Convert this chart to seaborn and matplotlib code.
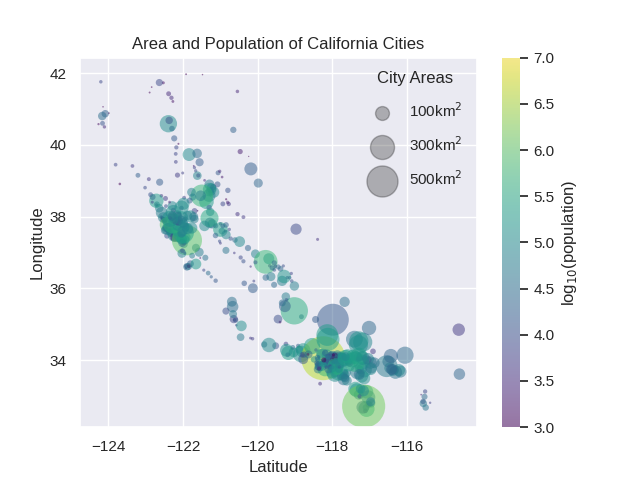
import numpy as np
import pandas as pd
import matplotlib
matplotlib.use("Agg")
import matplotlib.pyplot as plt
from matplotlib.colors import Normalize
from matplotlib.cm import ScalarMappable
import seaborn as sns

# ---- data (grouped by county, same order in every list) ----
latitude = [
    41.756,  # Del Norte
    40.867, 40.883, 40.802, 40.576, 40.598, 40.499, 41.059,  # Humboldt
    41.967, 41.208, 41.457, 41.608, 41.728, 41.310, 41.956, 41.423, 41.735,  # Siskiyou
    41.487, 40.416,  # Modoc, Lassen
    40.452, 40.587, 40.680,  # Shasta
    39.928, 40.179, 40.027,  # Tehama
    39.747, 39.524,  # Glenn
    39.413, 39.728, 39.364, 39.514, 39.760,  # Butte
    39.811, 39.676,  # Plumas, Sierra
    39.219, 39.262, 39.328,  # Nevada
    39.446, 38.909, 39.150, 39.410,  # Mendocino
    38.958, 39.043,  # Lake
    39.214, 39.155,  # Colusa
    39.276, 39.140, 39.146, 39.010,  # Sutter, Yuba
    38.897, 39.101, 38.892, 38.821, 38.791, 38.752,  # Placer
    38.730, 38.933,  # El Dorado
    38.707, 38.409, 38.678, 38.255, 38.162, 38.589, 38.582,  # Sacramento
    38.545, 38.580, 38.525, 38.679,  # Yolo
    38.049, 38.445, 38.249, 38.156, 38.238, 38.357, 38.104,  # Solano
    38.175, 38.579, 38.297, 38.505, 38.402,  # Napa
    38.806, 38.328, 38.611, 38.232, 38.340, 38.440, 38.402, 38.292, 38.547,  # Sonoma
    37.873, 37.925, 37.987, 37.934, 37.906, 38.107, 37.962, 37.975, 37.974, 37.859, 37.874,  # Marin
    37.775,  # San Francisco
    37.459, 37.518, 37.681, 37.584, 37.679, 37.688, 37.469, 37.559, 37.464, 37.574,
    37.453, 37.599, 37.614, 37.384, 37.485, 37.630, 37.507, 37.563, 37.655, 37.430,  # San Mateo
    37.287, 37.323, 37.006, 37.385, 37.380, 37.227, 37.428, 37.236, 37.130, 37.386,
    37.442, 37.339, 37.354, 37.264, 37.369,  # Santa Clara
    37.765, 37.887, 37.872, 37.702, 37.831, 37.548, 37.669, 37.682, 37.530, 37.804,
    37.824, 37.662, 37.725, 37.596,  # Alameda
    38.005, 37.932, 37.941, 37.978, 37.822, 37.916, 38.017, 37.886, 38.019, 37.835,
    37.997, 37.877, 38.004, 38.028, 37.948, 37.936, 37.962, 37.780, 37.906,  # Contra Costa
    37.798, 37.823, 38.130, 37.797, 37.742, 37.958, 37.740,  # San Joaquin
    37.595, 37.597, 37.639, 37.314, 37.767, 37.472, 37.736, 37.495, 37.641,  # Stanislaus
    37.348, 36.986, 37.258, 37.387, 37.058, 37.302,  # Merced
    38.353, 38.349, 38.482, 38.393, 38.068, 37.984,  # Amador, Calaveras, Tuolumne
    37.123, 36.961,  # Madera
    37.649, 37.364,  # Mono, Inyo
    36.825, 36.140, 36.859, 36.630, 36.738, 36.203, 36.724, 36.514, 36.754, 36.624,
    36.612, 36.596, 36.607, 36.708, 36.571,  # Fresno
    36.004, 36.098, 36.327, 36.301,  # Kings
    36.543, 36.296, 36.298, 36.203, 36.065, 36.208, 36.330, 36.414,  # Tulare
    35.209, 35.373, 35.126, 35.769, 35.059, 35.678, 35.623, 35.501, 35.143, 35.132, 35.594,  # Kern
    36.853, 36.846,  # San Benito
    36.555, 36.593, 36.507, 36.321, 36.213, 36.684, 36.600, 36.618, 36.678, 36.617,
    36.611, 36.425,  # Monterey
    36.975, 36.974, 37.051, 36.910,  # Santa Cruz
    35.119, 35.489, 35.121, 35.366, 35.627, 35.143, 35.283,  # San Luis Obispo
    34.614, 34.399, 34.436, 34.972, 34.639, 34.421, 34.953, 34.596,  # Santa Barbara
    34.216, 34.399, 34.286, 34.448, 34.198, 34.148, 34.354, 34.269, 34.171, 34.275,  # Ventura
    34.052, 33.770, 34.392, 34.142, 34.698, 34.579, 34.055, 33.836, 34.148, 34.069,
    33.940, 33.962, 34.069, 33.902, 34.181, 33.896, 33.955, 33.832, 34.019, 33.916,
    33.979, 34.095, 33.854, 33.882, 34.085, 33.930, 33.849, 34.006, 34.010, 34.063,
    33.888, 33.982, 34.140, 34.029, 33.889, 34.081, 34.136, 34.090, 34.134, 33.858,
    33.917, 34.021, 33.885, 34.097, 34.107, 34.101, 34.074, 34.090, 34.148, 34.107,
    34.020, 34.020, 33.965, 33.978, 33.961, 33.987, 34.001, 34.004, 34.020, 34.107,
    34.116, 34.122, 34.096, 34.162, 34.199, 34.139, 34.147, 34.052, 33.947, 33.866,
    33.831, 33.804, 33.792, 33.787, 33.744, 33.757, 33.788, 33.862, 33.919, 33.887,
    34.026, 34.158, 34.154, 34.146, 34.160, 34.282, 33.343, 33.961,  # Los Angeles
    33.565, 33.837, 33.917, 33.868, 33.641, 33.817, 33.467, 33.709, 33.870, 33.774,
    33.660, 33.684, 33.932, 33.846, 33.542, 33.600, 33.523, 33.610, 33.647, 33.803,
    33.600, 33.619, 33.788, 33.872, 33.641, 33.427, 33.502, 33.746, 33.741, 33.803,
    33.746, 33.815, 33.759, 33.889,  # Orange
    33.926, 33.930, 33.610, 34.004, 33.685, 33.780, 33.680, 33.875, 33.961, 33.964,
    33.748, 33.718, 33.721, 34.001, 33.663, 33.668, 33.728, 33.942, 33.554, 33.931,
    33.722, 33.830, 33.783, 33.740, 33.953, 33.784, 33.494, 33.599,  # Riverside
    34.583, 34.501, 34.895, 34.244, 34.012, 33.994, 34.074, 34.092, 34.034, 34.426,
    34.128, 34.048, 34.078, 34.848, 34.063, 34.106, 34.056, 34.106, 34.108, 34.136,
    34.098, 34.536, 34.034, 34.114,  # San Bernardino
    33.158, 32.640, 32.686, 32.959, 32.795, 33.037, 33.119, 32.584, 32.768, 32.743,
    32.678, 33.196, 32.963, 32.716, 33.143, 32.838, 32.991, 33.200,  # San Diego
    32.979, 32.679, 33.126, 32.792, 32.811, 32.848, 33.037,  # Imperial
]

longitude = [
    -124.202,
    -124.083, -123.984, -124.164, -124.264, -124.157, -124.106, -124.143,
    -121.918, -122.272, -122.895, -122.840, -122.528, -122.310, -121.478, -122.386, -122.635,
    -120.543, -120.653,
    -122.297, -122.392, -122.371,
    -122.179, -122.236, -122.123,
    -122.196, -122.193,
    -121.713, -121.837, -121.694, -121.556, -121.622,
    -120.469, -120.241,
    -121.061, -121.017, -120.183,
    -123.806, -123.693, -123.208, -123.355,
    -122.626, -122.916,
    -122.009, -122.149,
    -121.660, -121.617, -121.591, -121.423,
    -121.077, -120.953, -121.293, -121.193, -121.236, -121.288,
    -120.799, -119.984,
    -121.281, -121.372, -121.176, -121.300, -121.611, -121.303, -121.494,
    -121.741, -121.530, -121.971, -121.773,
    -122.159, -121.823, -122.040, -121.691, -122.040, -121.988, -122.257,
    -122.261, -122.580, -122.286, -122.470, -122.361,
    -123.017, -122.709, -122.869, -122.637, -122.701, -122.714, -122.824, -122.458, -122.816,
    -122.465, -122.527, -122.589, -122.535, -122.545, -122.570, -122.555, -122.562, -122.531, -122.485, -122.456,
    -122.419,
    -122.198, -122.276, -122.400, -122.366, -122.456, -122.470, -122.141, -122.271, -122.428, -122.379,
    -122.182, -122.387, -122.487, -122.235, -122.236, -122.411, -122.260, -122.326, -122.408, -122.254,
    -121.950, -122.032, -121.568, -122.114, -122.138, -121.975, -121.907, -121.993, -121.654, -122.084,
    -122.143, -121.895, -121.955, -122.023, -122.036,
    -122.242, -122.298, -122.273, -121.936, -122.285, -121.989, -122.081, -121.768, -122.040, -122.271,
    -122.232, -121.875, -122.156, -122.017,
    -121.806, -121.696, -121.936, -122.031, -121.999, -122.310, -122.289, -122.118, -122.134, -122.130,
    -121.713, -122.180, -122.299, -121.885, -122.061, -122.348, -122.346, -121.978, -122.065,
    -120.997, -121.277, -121.272, -121.216, -121.124, -121.291, -121.425,
    -120.958, -120.866, -120.997, -121.021, -120.847, -121.130, -120.935, -120.847, -120.761,
    -120.609, -120.626, -120.999, -120.724, -120.850, -120.483,
    -120.933, -120.774, -120.845, -120.803, -120.540, -120.382,
    -120.260, -120.061,
    -118.972, -118.395,
    -119.703, -120.360, -120.456, -119.678, -119.787, -120.103, -120.060, -119.554, -120.382, -119.314,
    -119.527, -119.450, -120.189, -119.556, -119.612,
    -120.129, -119.560, -119.646, -119.783,
    -119.387, -119.142, -119.207, -119.088, -119.017, -119.347, -119.292, -119.099,
    -118.828, -119.019, -117.986, -119.247, -119.401, -119.229, -117.671, -119.272, -119.456, -118.449, -119.341,
    -121.402, -121.538,
    -121.923, -121.835, -121.444, -121.244, -121.126, -121.802, -121.894, -121.917, -121.655, -121.848,
    -121.852, -121.326,
    -121.953, -122.031, -122.015, -121.757,
    -120.591, -120.671, -120.621, -120.850, -120.691, -120.641, -120.660,
    -120.193, -119.518, -119.827, -120.572, -120.458, -119.698, -120.436, -120.138,
    -119.038, -118.918, -118.882, -119.243, -119.177, -119.195, -119.059, -118.781, -118.838, -119.229,
    -118.244, -118.194, -118.543, -118.255, -118.137, -118.117, -117.750, -118.341, -118.145, -118.028,
    -118.133, -118.353, -117.939, -118.082, -118.309, -118.220, -118.212, -118.282, -118.491, -118.353,
    -118.033, -118.127, -118.134, -118.117, -117.961, -118.211, -118.388, -118.080, -118.105, -118.123,
    -118.309, -118.225, -118.035, -117.810, -118.160, -118.073, -117.865, -117.890, -117.908, -118.065,
    -118.012, -118.396, -118.411, -117.720, -117.807, -117.768, -118.400, -118.362, -118.002, -118.058,
    -117.949, -117.865, -118.151, -118.187, -118.185, -118.185, -118.160, -118.230, -117.958, -117.935,
    -118.150, -118.106, -118.106, -118.053, -118.188, -117.977, -117.971, -118.047, -118.085, -118.083,
    -118.073, -118.168, -118.315, -118.397, -118.387, -118.357, -118.358, -118.400, -118.416, -118.353,
    -118.780, -118.638, -118.762, -118.806, -118.652, -118.439, -118.328, -117.951,
    -117.727, -117.914, -117.900, -117.998, -117.918, -118.037, -117.698, -117.954, -117.925, -117.941,
    -117.999, -117.826, -117.946, -118.047, -117.783, -117.700, -117.708, -117.725, -117.689, -118.073,
    -117.672, -117.929, -117.853, -117.870, -117.603, -117.612, -117.663, -117.868, -118.105, -117.993,
    -117.826, -117.813, -117.994, -117.813,
    -116.876, -116.977, -114.596, -117.062, -117.273, -116.465, -116.174, -117.566, -116.501, -117.564,
    -116.972, -116.341, -116.216, -117.470, -116.310, -117.327, -117.146, -117.230, -117.214, -117.549,
    -116.374, -116.545, -117.229, -116.413, -117.396, -116.959, -117.148, -117.280,
    -117.409, -117.186, -117.017, -116.911, -117.689, -117.759, -117.313, -117.435, -117.314, -117.301,
    -117.209, -117.261, -117.690, -114.614, -117.651, -117.593, -117.183, -117.370, -117.290, -116.054,
    -117.648, -117.291, -117.043, -116.432,
    -117.351, -117.084, -117.183, -117.265, -116.962, -117.292, -117.086, -117.113, -117.023, -117.031,
    -117.099, -117.380, -117.036, -117.161, -117.166, -116.974, -117.271, -117.243,
    -115.531, -115.499, -115.514, -115.563, -115.380, -115.569, -115.621,
]

population = [
    7643,
    17231, 1253, 27191, 1371, 11926, 3368, 367,
    939, 1650, 737, 839, 1443, 3394, 1010, 2967, 7765,
    2827, 17947,
    9932, 89861, 10164,
    7663, 14076, 418,
    7291, 6166,
    1707, 86187, 6584, 15546, 26218,
    2104, 769,
    12860, 3068, 16180,
    7273, 449, 16075, 4888,
    15250, 4753,
    5971, 5123,
    8392, 64925, 12072, 3456,
    13330, 1963, 42819, 6430, 56974, 118788,
    10389, 21403,
    83301, 153015, 72203, 23647, 804, 64776, 466488,
    65622, 48744, 6624, 55468,
    26997, 18351, 105321, 7360, 28111, 92428, 115942,
    19454, 5155, 76915, 5814, 2933,
    8618, 7265, 11254, 57941, 40971, 167815, 7379, 10648, 26801,
    2068, 9253, 7441, 11926, 13903, 51904, 2415, 12336, 57713, 7061, 8962,
    805235,
    6914, 25835, 4282, 28806, 1792, 101123, 28155, 30567, 11324, 10825,
    32026, 21532, 37234, 4353, 76815, 41114, 28406, 97207, 63632, 5287,
    39349, 58302, 48821, 28976, 7922, 29413, 66790, 3341, 37882, 74066,
    64403, 945942, 116468, 29926, 140081,
    73812, 18539, 112580, 46036, 10080, 214089, 144186, 80968, 42573, 390724,
    10667, 70285, 84950, 69516,
    102372, 51481, 10897, 122067, 42039, 23549, 24060, 23893, 35824, 16016,
    35432, 17643, 18390, 63264, 33152, 103701, 29139, 72148, 64173,
    7132, 18023, 62134, 67096, 14297, 291707, 82922,
    45417, 7029, 201165, 10224, 20675, 20413, 22678, 68549, 8456,
    28168, 4950, 5520, 13058, 35972, 78958,
    7918, 4651, 1005, 2501, 3836, 4903,
    18720, 61416,
    8234, 3879,
    95631, 13380, 7549, 5570, 494665, 6754, 13544, 11382, 11014, 9078,
    14494, 24194, 4001, 24270, 23219,
    15505, 24813, 53967, 24531,
    21453, 10334, 10588, 11768, 54165, 59278, 124442, 7279,
    19304, 347483, 14120, 53041, 1154, 12707, 27616, 16988, 9327, 14414, 25545,
    34928, 1862,
    3722, 1624, 8187, 16330, 12874, 19718, 27810, 15041, 150441, 334,
    33025, 25738,
    9918, 59946, 11580, 51199,
    17252, 28310, 13156, 10234, 29793, 7655, 45119,
    4828, 13040, 29888, 7080, 42434, 88410, 99553, 5245,
    65201, 15002, 34421, 7461, 197899, 21723, 29321, 124237, 126683, 106433,
    3792621, 462257, 176320, 191719, 156633, 152750, 149058, 145438, 137122, 113475,
    111772, 109673, 106098, 105549, 103340, 96455, 94396, 91714, 89736, 84293,
    85331, 83089, 80048, 76616, 75390, 69772, 66748, 62942, 62500, 60269,
    58829, 58114, 56364, 55544, 54098, 53764, 50073, 47796, 46361, 49041,
    48527, 38883, 35135, 34926, 33371, 31063, 34109, 34399, 36590, 35558,
    39816, 29172, 42072, 35477, 23805, 27395, 12823, 112, 219, 1422,
    25619, 13147, 39718, 10917, 20246, 21321, 1048, 20116, 16223, 16522,
    14254, 11016, 20256, 13438, 41643, 1860, 8067, 19506, 16654, 32769,
    12645, 23058, 20330, 8270, 1856, 23645, 3728, 5325,
    47823, 336265, 39282, 80530, 109960, 47802, 33351, 55313, 135161, 170883,
    189992, 212375, 60239, 15568, 22723, 30344, 62979, 16192, 77264, 11449,
    93305, 85186, 136416, 50533, 47853, 63522, 34593, 324528, 24168, 38186,
    75540, 5812, 89701, 64234,
    29603, 36877, 20817, 7879, 10561, 51200, 40704, 152374, 25938, 53668,
    78657, 4958, 76036, 95004, 37467, 51821, 77519, 193365, 103466, 27063,
    48445, 44552, 68386, 17218, 303871, 44199, 100097, 32176,
    31765, 69135, 22639, 5019, 77983, 74799, 52154, 196069, 12040, 90173,
    53104, 23261, 36664, 4844, 163924, 165269, 68747, 99171, 209924, 25048,
    73732, 115903, 51367, 20700,
    105328, 243916, 18912, 4161, 99478, 59518, 143911, 26324, 57065, 25320,
    58582, 167086, 47811, 1307402, 83781, 53413, 12867, 93834,
    24953, 38572, 7705, 42598, 5939, 14758, 2225,
]

area_km2 = [
    6.3,
    28.6, 1.5, 37.4, 2.7, 12.1, 6.0, 1.3,
    1.8, 4.3, 1.9, 1.5, 4.7, 9.7, 1.2, 12.4, 26.4,
    6.4, 20.6,
    16.1, 155.5, 28.6,
    9.4, 19.6, 2.1,
    7.5, 7.3,
    1.7, 86.5, 5.4, 34.3, 47.4,
    14.0, 0.9,
    12.7, 5.7, 87.4,
    7.2, 3.5, 12.1, 7.2,
    26.4, 8.1,
    4.7, 13.6,
    5.6, 38.6, 9.1, 3.9,
    18.6, 3.7, 52.4, 18.9, 50.7, 95.4,
    15.1, 42.9,
    36.8, 110.0, 63.9, 15.3, 1.3, 87.5, 258.9,
    25.9, 58.9, 7.6, 39.6,
    40.7, 18.2, 105.5, 17.6, 10.7, 75.0, 127.5,
    12.6, 6.7, 46.3, 12.8, 3.9,
    6.8, 4.9, 11.7, 37.6, 18.2, 107.3, 4.8, 7.2, 18.8,
    6.2, 11.3, 5.8, 7.8, 12.4, 72.9, 4.0, 6.9, 58.1, 5.8, 33.5,
    121.4,
    15.9, 12.0, 50.9, 15.8, 4.9, 19.9, 6.8, 51.8, 16.6, 16.1,
    45.1, 8.4, 32.8, 23.4, 88.5, 14.2, 14.3, 41.9, 78.8, 30.4,
    15.0, 29.2, 42.9, 16.7, 22.9, 29.4, 35.2, 4.2, 33.4, 31.8,
    66.8, 469.7, 47.7, 32.1, 57.0,
    59.5, 14.0, 45.9, 38.9, 3.2, 226.8, 165.3, 67.1, 35.9, 202.0,
    4.4, 62.9, 40.1, 50.5,
    75.3, 38.2, 9.9, 79.1, 46.6, 9.6, 47.0, 39.3, 35.3, 24.1,
    41.6, 33.0, 33.6, 49.5, 18.4, 136.0, 6.8, 47.5, 51.2,
    6.0, 58.0, 36.0, 45.7, 13.7, 169.6, 57.8,
    23.2, 4.7, 111.6, 5.6, 15.8, 15.6, 10.9, 43.8, 6.0,
    15.8, 3.5, 4.3, 9.7, 25.7, 60.2,
    12.3, 9.2, 2.5, 6.5, 9.5, 7.8,
    19.9, 40.6,
    65.0, 4.8,
    62.4, 15.9, 9.2, 6.2, 293.9, 4.2, 8.6, 7.2, 9.2, 5.5,
    5.8, 13.4, 2.9, 14.3, 13.3,
    50.0, 19.2, 42.4, 22.1,
    16.4, 6.4, 5.8, 6.9, 45.8, 54.5, 95.3, 5.6,
    12.4, 386.8, 527.0, 37.8, 3.8, 6.9, 54.8, 72.4, 39.2, 25.7, 24.7,
    18.9, 1.8,
    2.8, 1.3, 5.2, 5.6, 10.0, 25.2, 30.3, 10.3, 60.5, 7.2,
    25.5, 11.5,
    4.4, 40.7, 11.9, 17.5,
    15.1, 68.9, 6.0, 26.4, 50.9, 35.3, 33.1,
    4.1, 24.8, 20.4, 3.4, 30.5, 108.7, 59.0, 6.3,
    50.7, 8.6, 32.3, 11.3, 102.2, 11.6, 12.0, 109.8, 143.3, 84.6,
    1302.0, 131.8, 135.6, 79.1, 245.1, 274.5, 59.6, 53.2, 59.9, 25.1,
    32.3, 23.6, 43.1, 25.3, 45.3, 26.2, 19.2, 48.9, 21.8, 15.6,
    37.9, 19.8, 24.5, 15.9, 17.1, 12.5, 16.1, 21.7, 21.6, 19.9,
    15.2, 7.8, 28.4, 38.3, 12.7, 13.4, 50.3, 18.1, 25.0, 22.7,
    20.3, 13.2, 10.2, 35.6, 39.8, 21.8, 14.7, 4.9, 35.5, 10.4,
    9.0, 23.2, 6.4, 6.6, 3.0, 3.1, 17.1, 13.1, 31.8, 24.8,
    8.9, 9.7, 10.7, 7.7, 22.4, 17.3, 5.1, 7.9, 23.0, 4.2,
    2.5, 5.7, 4.9, 12.4, 35.1, 8.0, 9.3, 3.7, 14.3, 5.1,
    51.4, 33.5, 20.3, 14.2, 4.0, 6.1, 7.5, 16.0,
    19.3, 130.6, 31.5, 27.3, 40.6, 17.1, 75.7, 23.5, 58.3, 46.6,
    82.0, 171.0, 19.0, 4.7, 25.3, 17.2, 38.4, 8.1, 32.4, 10.7,
    47.3, 135.2, 65.9, 17.0, 33.2, 50.8, 37.0, 70.6, 33.0, 8.0,
    28.8, 5.4, 26.3, 51.0,
    60.3, 79.7, 68.2, 38.0, 12.3, 59.4, 75.3, 101.3, 72.0, 34.2,
    72.8, 38.1, 76.8, 111.8, 92.1, 111.8, 120.2, 133.1, 87.5, 37.4,
    70.1, 246.8, 81.5, 63.1, 210.2, 67.1, 78.1, 61.4,
    146.8, 190.2, 106.6, 16.7, 76.8, 115.1, 41.9, 110.4, 9.1, 190.1,
    48.8, 19.3, 14.3, 80.2, 129.8, 103.9, 94.1, 57.9, 153.6, 153.3,
    40.4, 190.3, 72.9, 104.7,
    102.0, 134.0, 84.7, 5.5, 37.5, 51.8, 96.1, 11.1, 23.7, 10.0,
    23.6, 108.2, 101.4, 964.5, 63.3, 42.9, 9.3, 48.3,
    19.2, 21.7, 9.6, 29.0, 3.0, 15.0, 1.5,
]

legend_areas = [100, 300, 500]
x_ticks = [-124, -122, -120, -118, -116]
y_ticks = [34, 36, 38, 40, 42]

# ---- plot ----
sns.set_theme()
plt.rcParams["font.family"] = ["Liberation Sans", "DejaVu Sans"]

df = pd.DataFrame({
    "lon": longitude,
    "lat": latitude,
    "logpop": np.log10(np.array(population, dtype=float)),
    "area": area_km2,
})

fig, ax = plt.subplots(figsize=(6.4, 4.8), dpi=100)
sns.scatterplot(data=df, x="lon", y="lat", hue="logpop", palette="viridis",
                hue_norm=(3, 7), size="area", sizes=(0, 1000), size_norm=(0, 1000),
                alpha=0.5, linewidth=0, legend=False, ax=ax)

for a in legend_areas:
    ax.scatter([], [], c="k", alpha=0.3, s=a, label=f"{a}km$^2$")
ax.legend(scatterpoints=1, frameon=False, labelspacing=1, title="City Areas",
          loc="upper right")

ax.set_xlim(-124.76, -114.13)
ax.set_ylim(32.13, 42.43)
ax.set_xticks(x_ticks)
ax.set_yticks(y_ticks)
ax.set_xlabel("Latitude")
ax.set_ylabel("Longitude")
ax.set_title("Area and Population of California Cities")

sm = ScalarMappable(norm=Normalize(3, 7), cmap="viridis")
cb = fig.colorbar(sm, ax=ax, alpha=0.5)
cb.set_label("log$_{10}$(population)")
cb.outline.set_visible(False)

fig.savefig("out.png", dpi=100)
